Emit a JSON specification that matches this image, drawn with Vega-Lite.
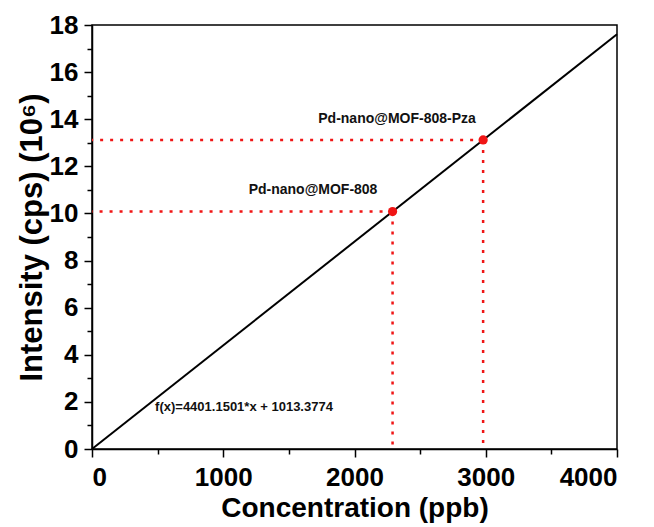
{
  "$schema": "https://vega.github.io/schema/vega-lite/v6.json",
  "width": 525,
  "height": 424,
  "autosize": "none",
  "padding": {"left": 92, "top": 25, "right": 37, "bottom": 78},
  "background": "white",
  "config": {
    "font": "Liberation Sans",
    "view": {"stroke": "black", "strokeWidth": 1.5},
    "axis": {
      "grid": false,
      "domainColor": "black",
      "domainWidth": 1.5,
      "tickColor": "black",
      "tickWidth": 1.5,
      "labelFont": "Liberation Sans",
      "labelFontWeight": "bold",
      "labelFontSize": 26,
      "labelColor": "black",
      "titleFont": "Liberation Sans",
      "titleFontWeight": "bold",
      "titleFontSize": 28,
      "titleColor": "black"
    }
  },
  "datasets": {
    "fit": [{"x": 0, "y": 0.0010134}, {"x": 4000, "y": 17.6056}],
    "pts": [
      {"x": 2290, "y": 10.08, "name": "Pd-nano@MOF-808"},
      {"x": 2980, "y": 13.12, "name": "Pd-nano@MOF-808-Pza"}
    ],
    "labels": [
      {"x": 1684, "y": 11.0, "text": "Pd-nano@MOF-808", "size": 14},
      {"x": 2324, "y": 14.0, "text": "Pd-nano@MOF-808-Pza", "size": 14},
      {"x": 1158, "y": 1.78, "text": "f(x)=4401.1501*x + 1013.3774", "size": 13}
    ]
  },
  "resolve": {"axis": {"x": "independent", "y": "independent"}},
  "layer": [
    {
      "data": {"name": "pts"},
      "mark": {"type": "rule", "color": "#f01515", "strokeWidth": 2.5, "strokeDash": [3, 7]},
      "encoding": {
        "x": {"field": "x", "type": "quantitative", "scale": {"domain": [0, 4000], "nice": false}, "axis": {"orient": "bottom", "values": [0, 1000, 2000, 3000, 4000], "format": "d", "tickSize": 8, "labelPadding": 7, "title": "Concentration (ppb)", "titlePadding": 4}},
        "x2": {"datum": 0},
        "y": {"field": "y", "type": "quantitative", "scale": {"domain": [0, 18], "nice": false}, "axis": {"orient": "left", "values": [0, 2, 4, 6, 8, 10, 12, 14, 16, 18], "tickSize": 8, "labelPadding": 6, "title": "Intensity (cps) (10⁶)", "titleFontSize": 31, "titlePadding": 1}}
      }
    },
    {
      "data": {"name": "pts"},
      "mark": {"type": "rule", "color": "#f01515", "strokeWidth": 2.5, "strokeDash": [3, 7]},
      "encoding": {
        "x": {"field": "x", "type": "quantitative", "axis": {"orient": "bottom", "values": [500, 1500, 2500, 3500], "tickSize": 5, "labels": false, "domain": false, "title": null}},
        "y": {"field": "y", "type": "quantitative", "axis": {"orient": "left", "values": [1, 3, 5, 7, 9, 11, 13, 15, 17], "tickSize": 5, "labels": false, "domain": false, "title": null}},
        "y2": {"datum": 0}
      }
    },
    {
      "data": {"name": "fit"},
      "mark": {"type": "line", "color": "black", "strokeWidth": 2},
      "encoding": {
        "x": {"field": "x", "type": "quantitative", "axis": null},
        "y": {"field": "y", "type": "quantitative", "axis": null}
      }
    },
    {
      "data": {"name": "pts"},
      "mark": {"type": "point", "filled": true, "color": "#f01515", "opacity": 1, "size": 85},
      "encoding": {
        "x": {"field": "x", "type": "quantitative", "axis": null},
        "y": {"field": "y", "type": "quantitative", "axis": null}
      }
    },
    {
      "data": {"name": "labels"},
      "mark": {"type": "text", "font": "Liberation Sans", "fontWeight": "bold", "color": "#111", "align": "center", "baseline": "middle"},
      "encoding": {
        "x": {"field": "x", "type": "quantitative", "axis": null},
        "y": {"field": "y", "type": "quantitative", "axis": null},
        "text": {"field": "text"},
        "size": {"field": "size", "type": "quantitative", "scale": null, "legend": null}
      }
    }
  ]
}
